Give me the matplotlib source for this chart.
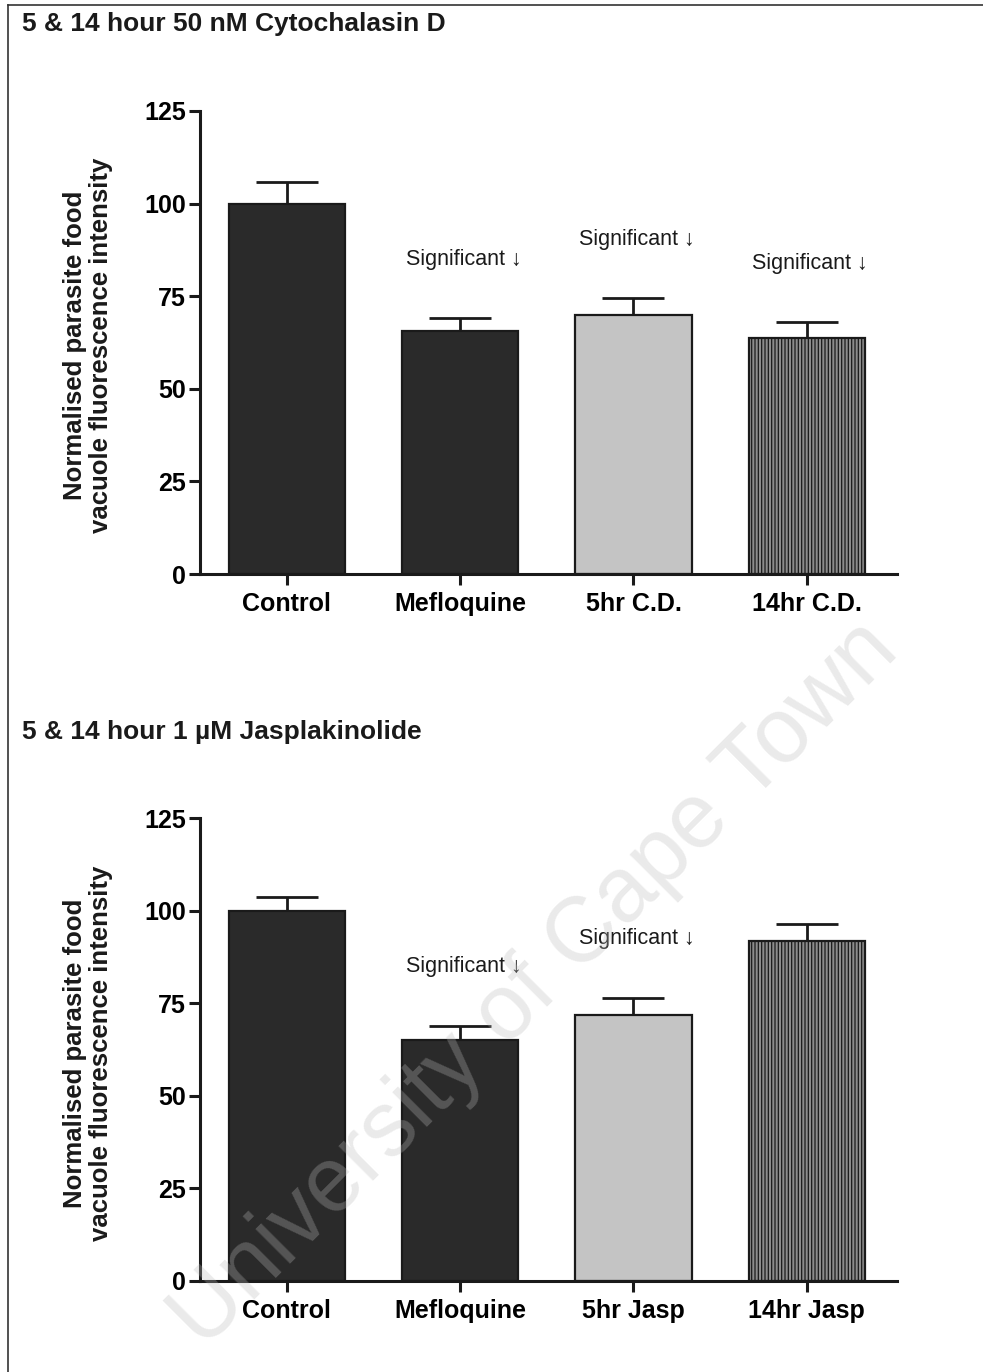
import numpy as np
import matplotlib.pyplot as plt
from matplotlib.lines import Line2D

plt.rcParams['font.family'] = ['Liberation Sans', 'DejaVu Sans']
plt.rcParams['hatch.linewidth'] = 0.9
plt.rcParams['hatch.color'] = '#303030'

# top panel: cytochalasin D
cd_labels = ['Control', 'Mefloquine', '5hr C.D.', '14hr C.D.']
cd_means = [100.0, 65.6, 69.9, 63.7]
cd_sem = [5.8, 3.5, 4.6, 4.3]
cd_sig = [None, 84.8, 90.2, 83.7]

# bottom panel: jasplakinolide
jasp_labels = ['Control', 'Mefloquine', '5hr Jasp', '14hr Jasp']
jasp_means = [99.9, 65.1, 71.8, 91.8]
jasp_sem = [3.8, 3.7, 4.6, 4.6]
jasp_sig = [None, 84.8, 92.6, None]

titles = ['5 & 14 hour 50 nM Cytochalasin D', '5 & 14 hour 1 \u00b5M Jasplakinolide']
yticks = [0, 25, 50, 75, 100, 125]

fill = ['#2a2a2a', '#2a2a2a', '#c4c4c4', '#8c8c8c']
hatches = [None, None, None, '|||||']

W, H = 983, 1372
fig = plt.figure(figsize=(W / 100, H / 100), dpi=100)

def fx(px):
    return px / W

def fy(py):
    return 1 - py / H

panels = [
    (cd_labels, cd_means, cd_sem, cd_sig, 111, 574, 24, 345),
    (jasp_labels, jasp_means, jasp_sem, jasp_sig, 818, 1281, 732, 1053),
]

for i, (labels, means, sem, sig, ytop, ybot, ytitle, ylab) in enumerate(panels):
    ax = fig.add_axes([fx(200), fy(ybot), fx(897) - fx(200), fy(ytop) - fy(ybot)])
    x = np.arange(len(labels))
    ax.errorbar(x, means, yerr=[np.zeros(len(sem)), sem], fmt='none',
                ecolor='#1a1a1a', elinewidth=2, capsize=22, capthick=2, zorder=1)
    for j in range(len(labels)):
        ax.bar(x[j], means[j], width=0.67, color=fill[j], edgecolor='#1a1a1a',
               linewidth=1.6, hatch=hatches[j], zorder=2)
        if sig[j] is not None:
            ax.text(x[j] + 0.02, sig[j], 'Significant \u2193', ha='center', va='center',
                    fontsize=15.5, color='#1a1a1a')
    ax.set_xlim(-0.5, 3.52)
    ax.set_ylim(0, 125)
    ax.set_yticks(yticks)
    ax.set_xticks(x)
    ax.set_xticklabels(labels, fontsize=18, fontweight='bold')
    ax.set_yticklabels([str(t) for t in yticks], fontsize=18, fontweight='bold')
    for s in ['top', 'right']:
        ax.spines[s].set_visible(False)
    for s in ['left', 'bottom']:
        ax.spines[s].set_linewidth(2.2)
        ax.spines[s].set_color('#1a1a1a')
    ax.tick_params(axis='both', width=2.2, length=8, color='#1a1a1a', pad=2)
    ax.tick_params(axis='x', pad=5)
    ax.patch.set_alpha(0)

    fig.text(fx(22), fy(ytitle), titles[i], fontsize=19, fontweight='bold',
             ha='left', va='center', color='#1a1a1a')
    fig.text(fx(88), fy(ylab), 'Normalised parasite food\nvacuole fluorescence intensity',
             rotation=90, ha='center', va='center', multialignment='center',
             fontsize=18.5, fontweight='bold', color='#1a1a1a', linespacing=1.1)

# page frame
fig.add_artist(Line2D([fx(8), 1.0], [fy(5), fy(5)], color='#333333', lw=1.2))
fig.add_artist(Line2D([fx(8), fx(8)], [fy(5), 0.0], color='#333333', lw=1.2))

# watermark
fig.text(fx(535), fy(985), 'University of Cape Town', rotation=45, ha='center', va='center',
         fontsize=66, color='#bbbbbb', alpha=0.3, zorder=10)

fig.savefig('out.png', dpi=100)
